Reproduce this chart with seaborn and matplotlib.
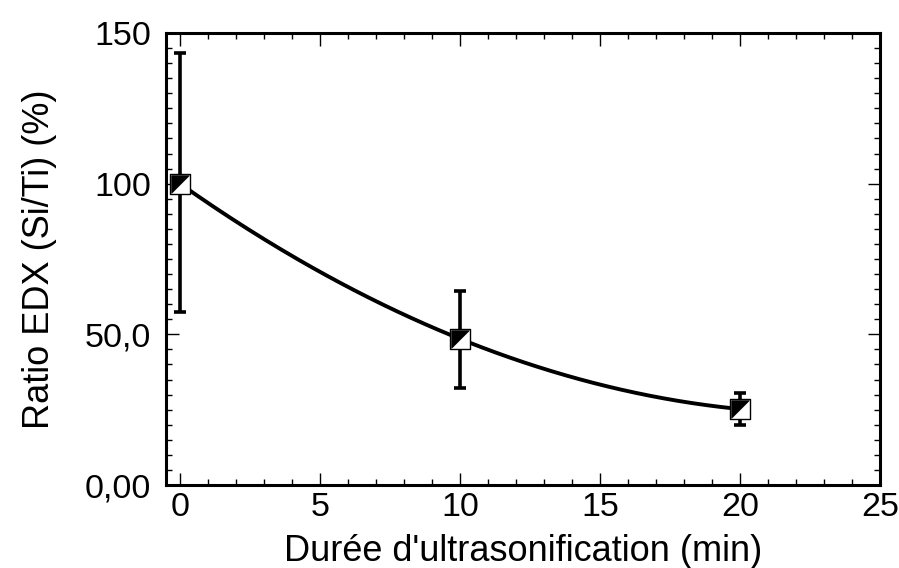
import numpy as np
import pandas as pd
import matplotlib
matplotlib.use("Agg")
import matplotlib.pyplot as plt
import seaborn as sns
from matplotlib.ticker import MultipleLocator, FixedLocator, FixedFormatter

# data
durations = [0, 10, 20]
ratio = [100, 48.5, 25.2]
err_low = [57.5, 32.2, 20.0]
err_high = [143.5, 64.4, 30.5]
xticks = [0, 5, 10, 15, 20, 25]
yticks = [0, 50, 100, 150]
ytick_labels = ["0,00", "50,0", "100", "150"]

sns.set_theme(style="ticks")
plt.rcParams["font.family"] = ["Liberation Sans", "DejaVu Sans"]

fig = plt.figure(figsize=(8.99, 5.68), dpi=100)
ax = fig.add_axes([0.1847, 0.1461, 0.9789 - 0.1847, 0.9419 - 0.1461])

df = pd.DataFrame({"x": durations, "y": ratio})

# fitted smooth curve (quadratic fit through data)
coef = np.polyfit(durations, ratio, 2)
xf = np.linspace(min(durations), max(durations), 200)
fit = pd.DataFrame({"x": xf, "y": np.polyval(coef, xf)})
sns.lineplot(data=fit, x="x", y="y", ax=ax, color="black", linewidth=2.8, zorder=2)

yerr = np.array([np.array(ratio) - np.array(err_low), np.array(err_high) - np.array(ratio)])
ax.errorbar(durations, ratio, yerr=yerr, fmt="none", ecolor="black",
            elinewidth=2.6, capsize=4, capthick=2.6, zorder=1)

# half-filled square markers
sns.scatterplot(data=df, x="x", y="y", ax=ax, marker="s", s=220,
                color="white", edgecolor="black", linewidth=1.0, zorder=3)
tri = [(-1, 1), (1, 1), (-1, -1), (-1, 1)]
sns.scatterplot(data=df, x="x", y="y", ax=ax, marker=tri, s=160,
                color="black", edgecolor="black", linewidth=0.5, zorder=4)

ax.set_xlim(-0.5, 25)
ax.set_ylim(0, 150)
ax.xaxis.set_major_locator(FixedLocator(xticks))
ax.xaxis.set_minor_locator(MultipleLocator(1))
ax.yaxis.set_major_locator(FixedLocator(yticks))
ax.yaxis.set_major_formatter(FixedFormatter(ytick_labels))
ax.yaxis.set_minor_locator(MultipleLocator(5))

ax.tick_params(which="both", direction="in", top=True, right=True, color="black",
               labelsize=24.5, labelcolor="black")
ax.tick_params(axis="x", which="both", pad=5)
ax.tick_params(axis="y", which="both", pad=11)
ax.tick_params(which="major", length=9, width=1)
ax.tick_params(which="minor", length=4, width=1)
for s in ax.spines.values():
    s.set_linewidth(2.2)
    s.set_color("black")

ax.set_xlabel("Durée d'ultrasonification (min)", fontsize=26, color="black", labelpad=8)
ax.set_ylabel("Ratio EDX (Si/Ti) (%)", fontsize=26, color="black", labelpad=20)

fig.savefig("out.png", dpi=100)
